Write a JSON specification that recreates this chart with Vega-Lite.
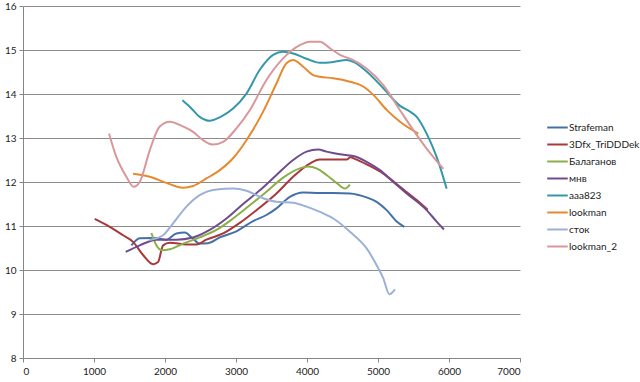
{
  "$schema": "https://vega.github.io/schema/vega-lite/v6.json",
  "autosize": {"type": "none"},
  "width": 497,
  "height": 352,
  "padding": {"left": 23, "top": 6, "right": 120, "bottom": 24},
  "background": "white",
  "config": {
    "view": {"stroke": null},
    "font": "Lato",
    "axis": {"labelFont": "Lato", "labelFontSize": 10, "labelColor": "#222", "domainColor": "#868686", "tickColor": "#868686", "tickSize": 4, "gridColor": "#8c8c8c", "gridWidth": 1},
    "legend": {"labelFont": "Lato", "labelFontSize": 10, "labelColor": "#222"}
  },
  "data": {"values": [
    {"s":"Strafeman","x":1527,"y":10.56},{"s":"Strafeman","x":1644,"y":10.72},{"s":"Strafeman","x":1832,"y":10.73},{"s":"Strafeman","x":2020,"y":10.69},{"s":"Strafeman","x":2160,"y":10.83},{"s":"Strafeman","x":2278,"y":10.85},{"s":"Strafeman","x":2395,"y":10.71},{"s":"Strafeman","x":2489,"y":10.60},{"s":"Strafeman","x":2607,"y":10.61},{"s":"Strafeman","x":2771,"y":10.74},{"s":"Strafeman","x":3006,"y":10.88},{"s":"Strafeman","x":3241,"y":11.11},{"s":"Strafeman","x":3429,"y":11.25},{"s":"Strafeman","x":3570,"y":11.40},{"s":"Strafeman","x":3758,"y":11.66},{"s":"Strafeman","x":3946,"y":11.76},{"s":"Strafeman","x":4182,"y":11.75},{"s":"Strafeman","x":4370,"y":11.75},{"s":"Strafeman","x":4605,"y":11.74},{"s":"Strafeman","x":4840,"y":11.65},{"s":"Strafeman","x":4981,"y":11.55},{"s":"Strafeman","x":5122,"y":11.36},{"s":"Strafeman","x":5263,"y":11.10},{"s":"Strafeman","x":5371,"y":10.98},
    {"s":"3Dfx_TriDDDek","x":1010,"y":11.16},{"s":"3Dfx_TriDDDek","x":1221,"y":10.98},{"s":"3Dfx_TriDDDek","x":1409,"y":10.79},{"s":"3Dfx_TriDDDek","x":1550,"y":10.64},{"s":"3Dfx_TriDDDek","x":1691,"y":10.34},{"s":"3Dfx_TriDDDek","x":1832,"y":10.13},{"s":"3Dfx_TriDDDek","x":1902,"y":10.18},{"s":"3Dfx_TriDDDek","x":1973,"y":10.56},{"s":"3Dfx_TriDDDek","x":2067,"y":10.62},{"s":"3Dfx_TriDDDek","x":2302,"y":10.58},{"s":"3Dfx_TriDDDek","x":2443,"y":10.58},{"s":"3Dfx_TriDDDek","x":2583,"y":10.69},{"s":"3Dfx_TriDDDek","x":2818,"y":10.83},{"s":"3Dfx_TriDDDek","x":3053,"y":11.07},{"s":"3Dfx_TriDDDek","x":3288,"y":11.36},{"s":"3Dfx_TriDDDek","x":3570,"y":11.74},{"s":"3Dfx_TriDDDek","x":3805,"y":12.12},{"s":"3Dfx_TriDDDek","x":4039,"y":12.42},{"s":"3Dfx_TriDDDek","x":4182,"y":12.51},{"s":"3Dfx_TriDDDek","x":4370,"y":12.51},{"s":"3Dfx_TriDDDek","x":4558,"y":12.51},{"s":"3Dfx_TriDDDek","x":4610,"y":12.56},{"s":"3Dfx_TriDDDek","x":4680,"y":12.52},{"s":"3Dfx_TriDDDek","x":4840,"y":12.40},{"s":"3Dfx_TriDDDek","x":5075,"y":12.19},{"s":"3Dfx_TriDDDek","x":5310,"y":11.89},{"s":"3Dfx_TriDDDek","x":5545,"y":11.59},{"s":"3Dfx_TriDDDek","x":5700,"y":11.37},
    {"s":"Балаганов","x":1808,"y":10.84},{"s":"Балаганов","x":1879,"y":10.56},{"s":"Балаганов","x":1949,"y":10.45},{"s":"Балаганов","x":2067,"y":10.47},{"s":"Балаганов","x":2255,"y":10.60},{"s":"Балаганов","x":2489,"y":10.74},{"s":"Балаганов","x":2724,"y":10.91},{"s":"Балаганов","x":2959,"y":11.17},{"s":"Балаганов","x":3194,"y":11.47},{"s":"Балаганов","x":3429,"y":11.78},{"s":"Балаганов","x":3664,"y":12.10},{"s":"Балаганов","x":3899,"y":12.31},{"s":"Балаганов","x":4016,"y":12.35},{"s":"Балаганов","x":4134,"y":12.31},{"s":"Балаганов","x":4275,"y":12.16},{"s":"Балаганов","x":4416,"y":11.98},{"s":"Балаганов","x":4534,"y":11.85},{"s":"Балаганов","x":4605,"y":11.94},
    {"s":"мнв","x":1447,"y":10.41},{"s":"мнв","x":1644,"y":10.56},{"s":"мнв","x":1879,"y":10.69},{"s":"мнв","x":2160,"y":10.69},{"s":"мнв","x":2395,"y":10.74},{"s":"мнв","x":2630,"y":10.91},{"s":"мнв","x":2865,"y":11.17},{"s":"мнв","x":3100,"y":11.50},{"s":"мнв","x":3335,"y":11.81},{"s":"мнв","x":3570,"y":12.16},{"s":"мнв","x":3805,"y":12.50},{"s":"мнв","x":3993,"y":12.69},{"s":"мнв","x":4158,"y":12.74},{"s":"мнв","x":4275,"y":12.69},{"s":"мнв","x":4463,"y":12.63},{"s":"мнв","x":4652,"y":12.59},{"s":"мнв","x":4840,"y":12.46},{"s":"мнв","x":5028,"y":12.27},{"s":"мнв","x":5216,"y":12.00},{"s":"мнв","x":5404,"y":11.74},{"s":"мнв","x":5685,"y":11.36},{"s":"мнв","x":5826,"y":11.10},{"s":"мнв","x":5929,"y":10.92},
    {"s":"aaa823","x":2245,"y":13.86},{"s":"aaa823","x":2349,"y":13.71},{"s":"aaa823","x":2489,"y":13.48},{"s":"aaa823","x":2630,"y":13.39},{"s":"aaa823","x":2771,"y":13.47},{"s":"aaa823","x":2959,"y":13.67},{"s":"aaa823","x":3147,"y":14.01},{"s":"aaa823","x":3335,"y":14.55},{"s":"aaa823","x":3523,"y":14.89},{"s":"aaa823","x":3664,"y":14.96},{"s":"aaa823","x":3805,"y":14.92},{"s":"aaa823","x":3993,"y":14.80},{"s":"aaa823","x":4182,"y":14.71},{"s":"aaa823","x":4370,"y":14.73},{"s":"aaa823","x":4558,"y":14.77},{"s":"aaa823","x":4652,"y":14.73},{"s":"aaa823","x":4840,"y":14.51},{"s":"aaa823","x":5075,"y":14.13},{"s":"aaa823","x":5310,"y":13.73},{"s":"aaa823","x":5451,"y":13.60},{"s":"aaa823","x":5545,"y":13.48},{"s":"aaa823","x":5685,"y":13.10},{"s":"aaa823","x":5826,"y":12.57},{"s":"aaa823","x":5967,"y":11.85},
    {"s":"lookman","x":1550,"y":12.19},{"s":"lookman","x":1785,"y":12.12},{"s":"lookman","x":2020,"y":11.98},{"s":"lookman","x":2255,"y":11.87},{"s":"lookman","x":2395,"y":11.91},{"s":"lookman","x":2583,"y":12.08},{"s":"lookman","x":2771,"y":12.27},{"s":"lookman","x":2959,"y":12.54},{"s":"lookman","x":3147,"y":12.95},{"s":"lookman","x":3382,"y":13.60},{"s":"lookman","x":3570,"y":14.24},{"s":"lookman","x":3711,"y":14.70},{"s":"lookman","x":3805,"y":14.77},{"s":"lookman","x":3946,"y":14.62},{"s":"lookman","x":4086,"y":14.43},{"s":"lookman","x":4182,"y":14.39},{"s":"lookman","x":4370,"y":14.36},{"s":"lookman","x":4605,"y":14.28},{"s":"lookman","x":4793,"y":14.17},{"s":"lookman","x":4934,"y":13.98},{"s":"lookman","x":5122,"y":13.64},{"s":"lookman","x":5310,"y":13.37},{"s":"lookman","x":5568,"y":13.10},
    {"s":"сток","x":1780,"y":10.68},{"s":"сток","x":1973,"y":10.79},{"s":"сток","x":2114,"y":11.06},{"s":"сток","x":2302,"y":11.44},{"s":"сток","x":2489,"y":11.70},{"s":"сток","x":2724,"y":11.83},{"s":"сток","x":2959,"y":11.85},{"s":"сток","x":3147,"y":11.80},{"s":"сток","x":3382,"y":11.63},{"s":"сток","x":3570,"y":11.55},{"s":"сток","x":3805,"y":11.53},{"s":"сток","x":3993,"y":11.44},{"s":"сток","x":4182,"y":11.32},{"s":"сток","x":4370,"y":11.17},{"s":"сток","x":4605,"y":10.87},{"s":"сток","x":4840,"y":10.49},{"s":"сток","x":4981,"y":10.11},{"s":"сток","x":5075,"y":9.81},{"s":"сток","x":5160,"y":9.45},{"s":"сток","x":5240,"y":9.56},
    {"s":"lookman_2","x":1212,"y":13.10},{"s":"lookman_2","x":1315,"y":12.57},{"s":"lookman_2","x":1456,"y":12.12},{"s":"lookman_2","x":1559,"y":11.89},{"s":"lookman_2","x":1644,"y":12.00},{"s":"lookman_2","x":1785,"y":12.72},{"s":"lookman_2","x":1926,"y":13.26},{"s":"lookman_2","x":2067,"y":13.37},{"s":"lookman_2","x":2255,"y":13.26},{"s":"lookman_2","x":2395,"y":13.14},{"s":"lookman_2","x":2536,"y":12.95},{"s":"lookman_2","x":2677,"y":12.85},{"s":"lookman_2","x":2818,"y":12.91},{"s":"lookman_2","x":3006,"y":13.22},{"s":"lookman_2","x":3194,"y":13.63},{"s":"lookman_2","x":3429,"y":14.32},{"s":"lookman_2","x":3664,"y":14.81},{"s":"lookman_2","x":3899,"y":15.11},{"s":"lookman_2","x":4040,"y":15.19},{"s":"lookman_2","x":4182,"y":15.19},{"s":"lookman_2","x":4323,"y":15.04},{"s":"lookman_2","x":4464,"y":14.89},{"s":"lookman_2","x":4652,"y":14.77},{"s":"lookman_2","x":4840,"y":14.58},{"s":"lookman_2","x":5075,"y":14.20},{"s":"lookman_2","x":5310,"y":13.63},{"s":"lookman_2","x":5498,"y":13.18},{"s":"lookman_2","x":5685,"y":12.76},{"s":"lookman_2","x":5920,"y":12.30}
  ]},
  "mark": {"type": "line", "interpolate": "monotone", "strokeWidth": 2},
  "encoding": {
    "x": {"field": "x", "type": "quantitative", "scale": {"domain": [0, 7000], "nice": false}, "axis": {"values": [0,1000,2000,3000,4000,5000,6000,7000], "format": "d", "grid": false, "title": null, "labelPadding": 4}},
    "y": {"field": "y", "type": "quantitative", "scale": {"domain": [8, 16], "nice": false, "zero": false}, "axis": {"values": [8,9,10,11,12,13,14,15,16], "format": "d", "grid": true, "title": null, "labelPadding": 3}},
    "color": {"field": "s", "type": "nominal", "sort": null,
      "scale": {"domain": ["Strafeman","3Dfx_TriDDDek","Балаганов","мнв","aaa823","lookman","сток","lookman_2"],
                "range": ["#4470a8","#a8383a","#8aae48","#6e4c8e","#3497aa","#e6892f","#9cb1d6","#d9979a"]},
      "legend": {"title": null, "orient": "none", "legendX": 523, "legendY": 110, "symbolType": "stroke", "symbolStrokeWidth": 2, "symbolSize": 420, "rowPadding": -1.5, "labelOffset": 0, "padding": 0}}
  }
}
